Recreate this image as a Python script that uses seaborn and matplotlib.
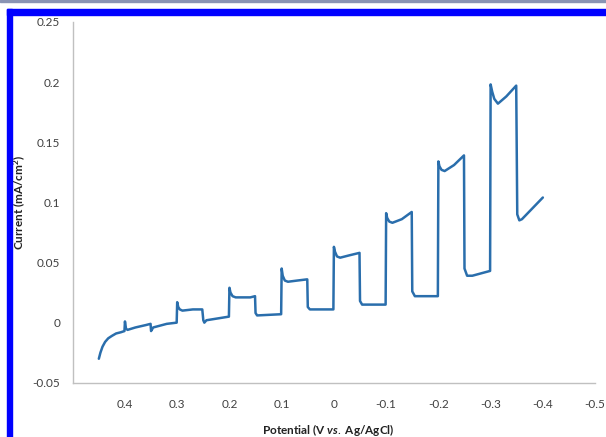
import matplotlib
matplotlib.use("Agg")
import matplotlib.pyplot as plt
from matplotlib.patches import Rectangle
import numpy as np
import pandas as pd
import seaborn as sns

# potential (V vs Ag/AgCl) and current (mA/cm2)
potential = [0.450, 0.447, 0.443, 0.438, 0.432, 0.425, 0.417, 0.408, 0.401,
             0.400, 0.398, 0.395, 0.380, 0.360, 0.351,
             0.350, 0.346, 0.320, 0.301,
             0.300, 0.298, 0.295, 0.290, 0.270, 0.252,
             0.250, 0.248, 0.244, 0.201,
             0.200, 0.198, 0.194, 0.188, 0.160, 0.151,
             0.150, 0.147, 0.101,
             0.100, 0.098, 0.094, 0.088, 0.070, 0.051,
             0.050, 0.046, 0.001,
             0.000, -0.002, -0.006, -0.012, -0.030, -0.049,
             -0.050, -0.054, -0.099,
             -0.100, -0.102, -0.106, -0.112, -0.130, -0.149,
             -0.150, -0.155, -0.199,
             -0.200, -0.202, -0.206, -0.212, -0.230, -0.249,
             -0.250, -0.255, -0.265, -0.299,
             -0.300, -0.303, -0.307, -0.314, -0.330, -0.349,
             -0.351, -0.355, -0.360, -0.400]
current = [-0.030, -0.025, -0.020, -0.016, -0.013, -0.011, -0.009, -0.008, -0.007,
           0.001, -0.005, -0.006, -0.004, -0.002, -0.001,
           -0.007, -0.004, -0.001, 0.000,
           0.017, 0.013, 0.011, 0.010, 0.011, 0.011,
           0.002, 0.000, 0.002, 0.005,
           0.029, 0.025, 0.022, 0.021, 0.021, 0.022,
           0.008, 0.006, 0.007,
           0.045, 0.039, 0.035, 0.034, 0.035, 0.036,
           0.013, 0.011, 0.011,
           0.063, 0.059, 0.055, 0.054, 0.056, 0.058,
           0.018, 0.015, 0.015,
           0.091, 0.087, 0.084, 0.083, 0.086, 0.092,
           0.026, 0.022, 0.022,
           0.134, 0.130, 0.127, 0.126, 0.131, 0.139,
           0.045, 0.039, 0.039, 0.043,
           0.198, 0.192, 0.186, 0.182, 0.188, 0.197,
           0.090, 0.085, 0.086, 0.104]

x_ticks = [0.4, 0.3, 0.2, 0.1, 0, -0.1, -0.2, -0.3, -0.4, -0.5]
x_labels = ["0.4", "0.3", "0.2", "0.1", "0", "-0.1", "-0.2", "-0.3", "-0.4", "-0.5"]
y_ticks = [-0.05, 0, 0.05, 0.1, 0.15, 0.2, 0.25]
y_labels = ["-0.05", "0", "0.05", "0.1", "0.15", "0.2", "0.25"]

sns.set_style("white")
plt.rcParams['font.family'] = ['Lato', 'DejaVu Sans']
plt.rcParams['mathtext.fontset'] = 'custom'
plt.rcParams['mathtext.rm'] = 'Lato'
plt.rcParams['mathtext.it'] = 'Lato:italic:bold'
plt.rcParams['mathtext.bf'] = 'Lato:bold'

df = pd.DataFrame({"potential": potential, "current": current})

fig = plt.figure(figsize=(6.06, 4.37), dpi=100)
ax = fig.add_axes([0.120, 0.124, 0.862, 0.826])

sns.lineplot(data=df, x="potential", y="current", sort=False, estimator=None,
             color="#2a6eac", linewidth=1.8, ax=ax)

ax.set_xlim(0.5, -0.5)
ax.set_ylim(-0.05, 0.25)
ax.set_xticks(x_ticks)
ax.set_xticklabels(x_labels)
ax.set_yticks(y_ticks)
ax.set_yticklabels(y_labels)
ax.tick_params(axis="both", which="both", direction="out", length=3, width=0.8,
               color="#c0c0c0", labelsize=8.5, labelcolor="#404040", pad=6)
ax.tick_params(axis="x", pad=9)

for side in ["top", "right"]:
    ax.spines[side].set_visible(False)
for side in ["left", "bottom"]:
    ax.spines[side].set_color("#c0c0c0")
    ax.spines[side].set_linewidth(1.0)

ax.set_xlabel("Potential (V $\\mathit{vs.}\\ $Ag/AgCl)", fontsize=8.5, fontweight="bold",
              color="#222222", va="center")
ax.xaxis.set_label_coords(0.49, -0.13)
ax.set_ylabel("Current (mA/cm$^\\mathbf{2}$)", fontsize=8.5, fontweight="bold",
              color="#222222", va="center")
ax.yaxis.set_label_coords(-0.101, 0.5)

# blue frame at top and left, thin grey line on the top edge
fig.patches.append(Rectangle((0, 1 - 1.5 / 437), 1, 1.5 / 437, transform=fig.transFigure,
                             color="#8a94b4", zorder=0))
fig.patches.append(Rectangle((7 / 606, 1 - 15 / 437), 1, 6 / 437, transform=fig.transFigure,
                             color="#0000ff", zorder=0))
fig.patches.append(Rectangle((7 / 606, 0), 5 / 606, 1 - 9 / 437, transform=fig.transFigure,
                             color="#0000ff", zorder=0))

fig.savefig("out.png", dpi=100)
